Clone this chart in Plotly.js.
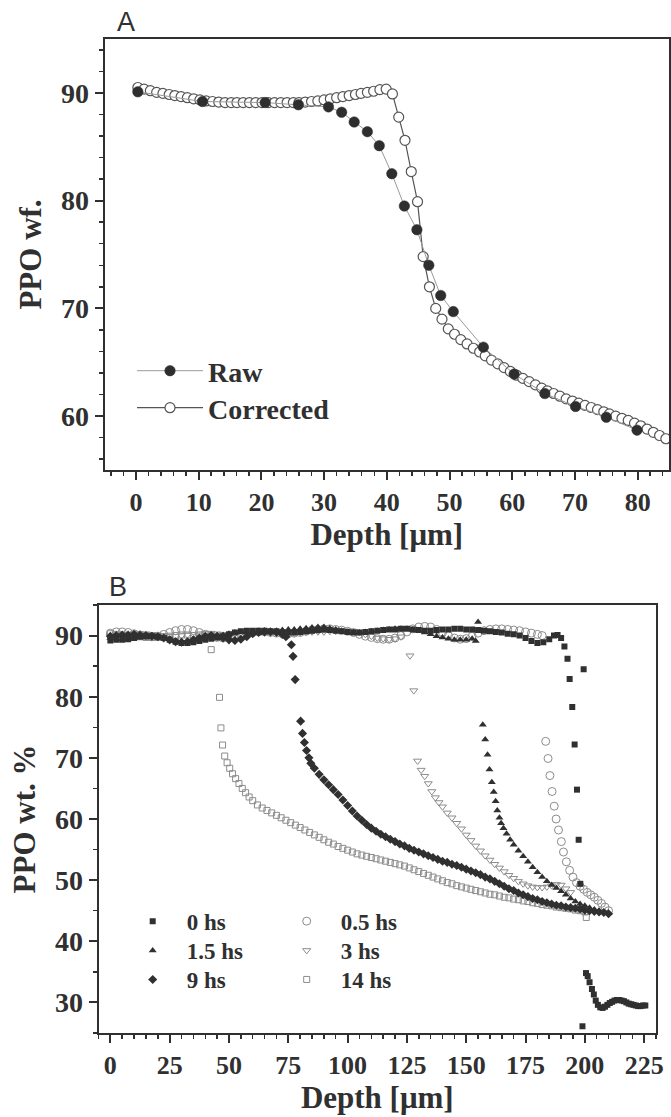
<!DOCTYPE html>
<html>
<head>
<meta charset="utf-8">
<script src="https://cdn.plot.ly/plotly-3.0.1.min.js"></script>
<style>
  html, body { margin: 0; padding: 0; background: #ffffff; }
  #chart { width: 671px; height: 1117px; }
</style>
</head>
<body>
<div id="chart"></div>
<script>
// ---------------- Panel A data ----------------
const depthRaw = [0.3,10.6,20.6,25.9,30.7,32.8,34.8,36.9,38.8,40.8,42.8,44.8,46.7,48.6,50.6,55.4,60.3,65.2,70.1,75.0,79.9];
const ppoRaw   = [90.1,89.2,89.1,88.9,88.7,88.2,87.3,86.4,85.1,82.5,79.5,77.3,74.0,71.2,69.7,66.4,63.9,62.1,60.9,59.9,58.7];

const corrected = [
  [0.3,90.5],[1.3,90.35],[2.3,90.2],[3.3,90.05],[4.3,89.95],[5.3,89.85],[6.2,89.75],[7.2,89.65],[8.2,89.55],[9.2,89.45],
  [10.2,89.35],[11.2,89.25],[12.2,89.2],[13.2,89.15],[14.2,89.1],[15.2,89.1],[16.1,89.1],[17.1,89.1],[18.1,89.1],[19.1,89.1],
  [20.1,89.1],[21.1,89.1],[22.1,89.1],[23.1,89.1],[24.1,89.1],[25.1,89.1],[26.0,89.1],[27.0,89.15],[28.0,89.2],[29.0,89.25],
  [30.0,89.35],[31.0,89.45],[32.0,89.55],[33.0,89.65],[34.0,89.75],[35.0,89.85],[35.9,89.95],[36.9,90.05],[37.9,90.15],[38.9,90.3],
  [39.9,90.35],[40.9,89.9],[41.9,87.75],[42.9,85.6],[43.9,82.7],[44.9,79.9],[45.8,74.8],[46.8,72.0],[47.8,70.0],[48.8,69.0],
  [49.8,68.1],[50.8,67.6],[51.8,67.1],[52.8,66.7],[53.8,66.3],[54.8,65.95],[55.7,65.6],[56.7,65.2],[57.7,64.85],[58.7,64.5],
  [59.7,64.15],[60.7,63.8],[61.7,63.5],[62.7,63.2],[63.7,62.9],[64.7,62.6],[65.6,62.35],[66.6,62.1],[67.6,61.85],[68.6,61.6],
  [69.6,61.4],[70.6,61.2],[71.6,61.0],[72.6,60.8],[73.6,60.6],[74.6,60.4],[75.5,60.2],[76.5,60.0],[77.5,59.8],[78.5,59.6],
  [79.5,59.35],[80.5,59.1],[81.5,58.8],[82.5,58.5],[83.5,58.2],[84.5,57.9]
];

// ---------------- Panel B data ([depth, PPO wt.%]) ----------------
const hs0 = [
  [0,89.2],[2.5,89.3],[5,89.3],[7.5,89.4],[10,89.6],[12.5,89.8],[15,89.9],[17.5,89.9],[20,89.8],[22.5,89.6],
  [25,89.3],[27.5,89.0],[30,88.8],[32.5,88.8],[35,88.9],[37.5,89.1],[40,89.3],[42.5,89.5],[45,89.7],[47.5,89.9],
  [50,90.2],[52.5,90.5],[55,90.7],[57.5,90.8],[60,90.8],[62.5,90.8],[65,90.8],[67.5,90.7],[70,90.7],[72.5,90.6],
  [75,90.5],[77.5,90.5],[80,90.6],[82.5,90.7],[85,90.8],[87.5,90.9],[90,91.0],[92.5,90.9],[95,90.8],[97.5,90.7],
  [100,90.6],[102.5,90.5],[105,90.5],[107.5,90.6],[110,90.7],[112.5,90.8],[115,90.9],[117.5,91.0],[120,91.0],[122.5,91.1],
  [125,91.1],[127.5,91.0],[130,90.9],[132.5,90.8],[135,90.8],[137.5,90.9],[140,91.0],[142.5,91.0],[145,91.1],[147.5,91.1],
  [150,91.0],[152.5,91.0],[155,90.9],[157.5,90.8],[160,90.7],[162.5,90.6],[165,90.5],[167.5,90.3],[170,90.2],[172.5,90.0],
  [175,89.6],[177.5,89.1],[180,88.8],[182.5,88.9],[185,89.4],[187,90.0],[188.5,90.1],[190,89.6],
  [191.4,88.2],[192.7,86.2],[193.6,82.9],[194.7,78.3],[195.7,72.2],[196.7,64.8],[197.4,56.6],[198.1,49.4],[199.0,26.1],[199.5,84.5],
  [200.5,34.8],[201.2,34.3],[202.0,33.3],[203.0,32.2],[203.8,31.3],[204.6,30.3],[205.5,29.6],[206.5,29.2],[207.5,29.1],[208.5,29.3],
  [209.5,29.6],[210.5,29.9],[211.5,30.1],[212.5,30.3],[213.5,30.4],[214.5,30.4],[215.5,30.3],[216.5,30.2],[217.5,30.0],[218.5,29.8],
  [219.5,29.7],[220.5,29.6],[221.5,29.5],[222.5,29.4],[223.5,29.4],[224.5,29.5],[225.5,29.5]
];
const hs05 = [
  [0,90.4],[2.5,90.6],[5,90.6],[7.5,90.5],[10,90.3],[12.5,90.1],[15,89.9],[17.5,89.8],[20,89.9],[22.5,90.2],
  [25,90.5],[27.5,90.8],[30,91.0],[32.5,91.0],[35,90.8],[37.5,90.5],[40,90.2],[42.5,89.9],[45,89.7],[47.5,89.6],
  [50,89.7],[52.5,89.9],[55,90.1],[57.5,90.3],[60,90.5],[62.5,90.6],[65,90.6],[67.5,90.5],[70,90.4],[72.5,90.3],
  [75,90.3],[77.5,90.4],[80,90.5],[82.5,90.7],[85,90.9],[87.5,91.0],[90,91.1],[92.5,91.1],[95,91.0],[97.5,90.9],
  [100,90.7],[102.5,90.5],[105,90.2],[107.5,89.9],[110,89.7],[112.5,89.5],[115,89.4],[117.5,89.4],[120,89.6],[122.5,90.0],
  [125,90.6],[127.5,91.1],[130,91.4],[132.5,91.5],[135,91.4],[137.5,91.0],[140,90.5],[142.5,90.0],[145,89.6],[147.5,89.4],
  [150,89.5],[152.5,89.9],[155,90.4],[157.5,90.8],[160,91.0],[162.5,91.1],[165,91.1],[167.5,91.0],[170,90.9],[172.5,90.8],
  [175,90.6],[177.5,90.4],[180,90.2],[182,90.0],
  [183.5,72.7],[184.5,69.9],[185.3,67.1],[186.2,64.5],[187.1,62.1],[187.9,60.0],[188.9,58.2],[190.1,56.3],[191.0,54.6],[192.2,53.0],
  [193.6,51.6],[195.0,50.5],[196.5,49.6],[198.0,49.0],[199.5,48.5],[201.0,48.0],[202.5,47.6],[204.0,47.2],[205.5,46.7],[207.0,46.2],
  [208.5,45.6],[210.0,45.0]
];
const hs15 = [
  [0,89.6],[2.5,89.5],[5,89.4],[7.5,89.5],[10,89.7],[12.5,89.9],[15,90.0],[17.5,90.0],[20,89.9],[22.5,89.7],
  [25,89.4],[27.5,89.1],[30,89.0],[32.5,89.0],[35,89.2],[37.5,89.4],[40,89.7],[42.5,89.9],[45,90.0],[47.5,90.1],
  [50,90.3],[52.5,90.5],[55,90.6],[57.5,90.5],[60,90.4],[62.5,90.4],[65,90.5],[67.5,90.6],[70,90.8],[72.5,90.9],
  [75,91.0],[77.5,91.0],[80,91.1],[82.5,91.2],[85,91.3],[87.5,91.4],[90,91.4],[92.5,91.2],[95,91.0],[97.5,90.8],
  [100,90.6],[102.5,90.5],[105,90.5],[107.5,90.6],[110,90.7],[112.5,90.8],[115,90.9],[117.5,91.0],[120,91.1],[122.5,91.1],
  [125,91.1],[127.5,91.0],[130,90.8],[132.5,90.5],[135,90.2],[137.5,89.9],[140,89.7],[142.5,89.5],[145,89.3],[147.5,89.3],
  [150,89.3],[152.5,89.5],[154,89.1],[155,92.2],
  [157.0,75.4],[158.0,73.0],[159.0,70.5],[159.8,68.1],[160.8,66.0],[161.6,64.4],[162.4,62.9],[163.1,61.4],[164.0,60.2],[164.7,59.3],
  [165.7,58.5],[167.0,57.6],[168.5,56.6],[170,55.8],[172,54.8],[174,53.9],[176,53.0],[178,52.1],[180,51.3],[182,50.5],
  [184,49.8],[186,49.2],[188,48.7],[190,48.2],[192,47.6],[194,47.0],[196,46.5],[198,46.1],[200,45.8],[202,45.5],
  [204,45.2],[206,45.0],[208,44.8],[210,44.6]
];
const hs3 = [
  [0,89.9],[2.5,90.0],[5,90.1],[7.5,90.2],[10,90.3],[12.5,90.3],[15,90.3],[17.5,90.2],[20,90.1],[22.5,90.0],
  [25,89.9],[27.5,89.9],[30,90.0],[32.5,90.1],[35,90.2],[37.5,90.3],[40,90.4],[42.5,90.4],[45,90.3],[47.5,90.2],
  [50,90.2],[52.5,90.3],[55,90.4],[57.5,90.5],[60,90.6],[62.5,90.7],[65,90.7],[67.5,90.6],[70,90.5],[72.5,90.4],
  [75,90.4],[77.5,90.4],[80,90.5],[82.5,90.6],[85,90.6],[87.5,90.6],[90,90.6],[92.5,90.7],[95,90.7],[97.5,90.8],
  [100,90.8],[102.5,90.7],[105,90.5],[107.5,90.2],[110,89.9],[112.5,89.6],[115,89.5],[117.5,89.4],[120,89.5],[122.5,89.8],
  [126.3,86.7],[127.9,81.0],[129.5,69.5],[131,68.0],[132.5,67.0],[134,65.8],[135.5,64.5],[137,63.5],[138.5,62.7],[140,62.0],
  [142,61.0],[144,60.2],[146,59.3],[148,58.4],[150,57.4],[152,56.5],[154,55.6],[156,54.8],[158,54.0],[160,53.3],
  [162,52.6],[164,52.0],[166,51.4],[168,50.8],[170,50.3],[172,49.8],[174,49.4],[176,49.1],[178,48.9],[180,48.8],
  [182,48.8],[184,48.9],[186,49.1],[188,49.3],[190,49.2],[192,48.6],[194,48.0]
];
const hs9 = [
  [0,89.9],[2.5,90.0],[5,90.1],[7.5,90.1],[10,90.2],[12.5,90.1],[15,90.0],[17.5,89.9],[20,89.8],[22.5,89.6],
  [25,89.3],[27.5,89.0],[30,88.9],[32.5,89.0],[35,89.3],[37.5,89.6],[40,89.9],[42.5,90.0],[45,89.9],[47.5,89.6],
  [50,89.3],[52.5,89.2],[55,89.4],[57.5,89.8],[60,90.3],[62.5,90.5],[65,90.6],[67.5,90.6],[70,90.5],[72.5,90.2],[74,89.8],
  [76.3,88.5],[77.0,86.6],[77.9,82.8],[80.2,76.0],[81.0,74.0],[81.8,72.5],[82.7,71.2],[83.7,70.0],[84.5,69.1],[86,68.3],
  [88,67.3],[90,66.4],[92,65.6],[94,64.8],[96,64.0],[98,63.1],[100,62.2],[102,61.3],[104,60.5],[106,59.8],
  [108,59.1],[110,58.5],[112,58.0],[114,57.5],[116,57.1],[118,56.7],[120,56.3],[122,55.9],[124,55.6],[126,55.2],
  [128,54.9],[130,54.6],[132,54.3],[134,54.0],[136,53.7],[138,53.4],[140,53.1],[142,52.9],[144,52.6],[146,52.4],
  [148,52.1],[150,51.8],[152,51.5],[154,51.2],[156,50.9],[158,50.5],[160,50.2],[162,49.8],[164,49.4],[166,49.0],
  [168,48.6],[170,48.3],[172,47.9],[174,47.6],[176,47.3],[178,47.0],[180,46.8],[182,46.5],[184,46.3],[186,46.1],
  [188,45.9],[190,45.8],[192,45.6],[194,45.5],[196,45.4],[198,45.3],[200,45.1],[202,45.0],[204,44.9],[206,44.8],
  [208,44.7],[210,44.5]
];
const hs14 = [
  [0,90.3],[2.5,90.2],[5,90.1],[7.5,90.0],[10,89.9],[12.5,89.8],[15,89.7],[17.5,89.7],[20,89.7],[22.5,89.8],
  [25,89.9],[27.5,90.0],[30,90.1],[32.5,90.1],[35,90.0],[37.5,89.9],[40,89.9],
  [42.5,87.7],[46.0,79.9],[46.6,74.9],[47.3,72.1],[48.2,70.3],[49.2,69.2],[50.3,68.3],[51.5,67.4],[52.8,66.6],[54.2,65.8],
  [55.6,65.0],[57.0,64.3],[58.5,63.6],[60,63.0],[62,62.3],[64,61.8],[66,61.4],[68,61.0],[70,60.6],[72,60.2],
  [74,59.8],[76,59.4],[78,59.0],[80,58.6],[82,58.2],[84,57.8],[86,57.4],[88,57.0],[90,56.6],[92,56.2],
  [94,55.9],[96,55.5],[98,55.2],[100,54.9],[102,54.6],[104,54.3],[106,54.1],[108,53.9],[110,53.7],[112,53.5],
  [114,53.3],[116,53.1],[118,52.9],[120,52.7],[122,52.5],[124,52.3],[126,52.0],[128,51.7],[130,51.4],[132,51.1],
  [134,50.8],[136,50.5],[138,50.2],[140,49.9],[142,49.6],[144,49.4],[146,49.1],[148,48.9],[150,48.7],[152,48.5],
  [154,48.3],[156,48.1],[158,47.9],[160,47.7],[162,47.6],[164,47.4],[166,47.2],[168,47.1],[170,46.9],[172,46.8],
  [174,46.6],[176,46.5],[178,46.3],[180,46.2],[182,46.0],[184,45.9],[186,45.8],[188,45.6],[190,45.5],[192,45.4],
  [194,45.3],[196,45.1],[198,45.0],[200,44.8],[200.6,43.9]
];

const seriesLabels = ['0 hs','0.5 hs','1.5 hs','3 hs','9 hs','14 hs'];

// ---------------- styling ----------------
const INK = '#303030';
const GREY = '#8c8c8c';
const SERIF = 'Liberation Serif, Times New Roman, serif';
const px = p => p.map(v => v[0]);
const py = p => p.map(v => v[1]);

const data = [
  { x: px(corrected), y: py(corrected), name: 'Corrected', xaxis: 'x', yaxis: 'y',
    type: 'scatter', mode: 'lines+markers', legend: 'legend2',
    line: { color: '#555555', width: 1.2 },
    marker: { symbol: 'circle', size: 10, color: '#ffffff', line: { color: '#555555', width: 1.2 } } },
  { x: depthRaw, y: ppoRaw, name: 'Raw', xaxis: 'x', yaxis: 'y',
    type: 'scatter', mode: 'lines+markers', legend: 'legend',
    line: { color: '#9a9a9a', width: 1 },
    marker: { symbol: 'circle', size: 10.5, color: '#2e2e2e', line: { color: '#2e2e2e', width: 0.5 } } },

  // Panel B — grey open series (drawn first)
  { x: px(hs14), y: py(hs14), name: seriesLabels[5], xaxis: 'x2', yaxis: 'y2', type: 'scatter', mode: 'markers', legend: 'legend8',
    marker: { symbol: 'square-open', size: 6, color: GREY, line: { width: 1 } } },
  { x: px(hs3), y: py(hs3), name: seriesLabels[3], xaxis: 'x2', yaxis: 'y2', type: 'scatter', mode: 'markers', legend: 'legend7',
    marker: { symbol: 'triangle-down-open', size: 7, color: GREY, line: { width: 1 } } },
  { x: px(hs05), y: py(hs05), name: seriesLabels[1], xaxis: 'x2', yaxis: 'y2', type: 'scatter', mode: 'markers', legend: 'legend6',
    marker: { symbol: 'circle-open', size: 8, color: GREY, line: { width: 1 } } },

  // Panel B — dark filled series
  { x: px(hs9), y: py(hs9), name: seriesLabels[4], xaxis: 'x2', yaxis: 'y2', type: 'scatter', mode: 'markers', legend: 'legend5',
    marker: { symbol: 'diamond', size: 7, color: INK } },
  { x: px(hs15), y: py(hs15), name: seriesLabels[2], xaxis: 'x2', yaxis: 'y2', type: 'scatter', mode: 'markers', legend: 'legend4',
    marker: { symbol: 'triangle-up', size: 7, color: INK } },
  { x: px(hs0), y: py(hs0), name: seriesLabels[0], xaxis: 'x2', yaxis: 'y2', type: 'scatter', mode: 'markers', legend: 'legend3',
    marker: { symbol: 'square', size: 6, color: INK } }
];

const tickFontX = { family: SERIF, size: 26, color: INK, weight: 'bold' };
const tickFontY = { family: SERIF, size: 28, color: INK, weight: 'bold' };
const titleFont = { family: SERIF, size: 31, color: INK, weight: 'bold' };

function axis(extra) {
  return Object.assign({
    showgrid: false, zeroline: false, showline: true, linecolor: INK, linewidth: 2,
    mirror: true, ticks: 'outside', ticklen: 8, tickwidth: 2, tickcolor: INK,
    fixedrange: true
  }, extra);
}

const W = 671, H = 1117;
function leg(xPx, topPx, size, itemW) {
  return { x: xPx / W, y: 1 - topPx / H, xanchor: 'left', yanchor: 'top',
    bgcolor: 'rgba(0,0,0,0)', borderwidth: 0, itemwidth: itemW, tracegroupgap: 0,
    font: { family: SERIF, size: size, color: INK, weight: 'bold' } };
}

const layout = {
  width: W, height: H,
  margin: { l: 0, r: 0, t: 0, b: 0 },
  paper_bgcolor: '#ffffff', plot_bgcolor: '#ffffff',
  hovermode: false,
  showlegend: true,
  xaxis: axis({ domain: [104.6 / W, 669 / W], anchor: 'y', range: [-5, 85], tick0: 0, dtick: 10,
    minor: { dtick: 2, ticks: 'outside', ticklen: 4, tickwidth: 1.5, tickcolor: INK },
    tickfont: tickFontX, title: { text: 'Depth [μm]', font: titleFont, standoff: 6 } }),
  yaxis: axis({ domain: [1 - 470 / H, 1 - 39 / H], anchor: 'x', range: [55, 95], tick0: 0, dtick: 10,
    minor: { dtick: 2, ticks: 'outside', ticklen: 4, tickwidth: 1.5, tickcolor: INK },
    tickfont: tickFontY, title: { text: 'PPO wf.', font: titleFont, standoff: 10 } }),
  xaxis2: axis({ domain: [98.5 / W, 656 / W], anchor: 'y2', range: [-5, 230], tick0: 0, dtick: 25,
    minor: { dtick: 5, ticks: 'outside', ticklen: 4, tickwidth: 1.5, tickcolor: INK },
    tickfont: tickFontX, title: { text: 'Depth [μm]', font: titleFont, standoff: 6 } }),
  yaxis2: axis({ domain: [1 - 1033 / H, 1 - 605 / H], anchor: 'x2', range: [25, 95], tick0: 0, dtick: 10,
    minor: { dtick: 5, ticks: 'outside', ticklen: 4, tickwidth: 1.5, tickcolor: INK },
    tickfont: tickFontY, title: { text: 'PPO wt. %', font: titleFont, standoff: 10 } }),
  // Panel A legend entries
  legend:  leg(132, 346, 28, 66),
  legend2: leg(132, 383, 28, 66),
  // Panel B legend entries (two columns)
  legend3: leg(118.7, 899.7, 23, 58),
  legend4: leg(118.7, 929, 23, 58),
  legend5: leg(118.7, 958, 23, 58),
  legend6: leg(272.7, 899.7, 23, 58),
  legend7: leg(272.7, 929, 23, 58),
  legend8: leg(272.7, 958, 23, 58),
  annotations: [
    { text: 'A', xref: 'paper', yref: 'paper', x: 126 / W, y: 1 - 22 / H, xanchor: 'center', yanchor: 'middle',
      showarrow: false, font: { family: 'Liberation Sans, Arial, sans-serif', size: 27, color: INK } },
    { text: 'B', xref: 'paper', yref: 'paper', x: 118 / W, y: 1 - 587 / H, xanchor: 'center', yanchor: 'middle',
      showarrow: false, font: { family: 'Liberation Sans, Arial, sans-serif', size: 27, color: INK } }
  ]
};

Plotly.newPlot('chart', data, layout, { staticPlot: true, displayModeBar: false });
</script>
</body>
</html>
